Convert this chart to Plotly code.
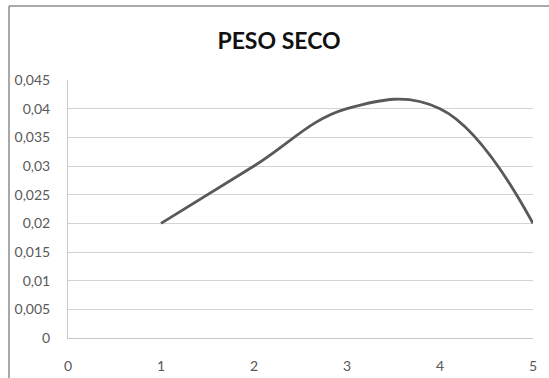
import plotly.graph_objects as go

x_values = [1, 2, 3, 4, 5]
peso_seco = [0.02, 0.03, 0.04, 0.04, 0.02]
y_tickvals = [0, 0.005, 0.01, 0.015, 0.02, 0.025, 0.03, 0.035, 0.04, 0.045]
y_ticktext = ["0", "0,005", "0,01", "0,015", "0,02", "0,025", "0,03", "0,035", "0,04", "0,045"]
x_tickvals = [0, 1, 2, 3, 4, 5]
title_text = "PESO SECO"

W, H = 549, 378
L, R, T, B = 68, 16, 80, 40
pw = W - L - R
ph = H - T - B

fig = go.Figure()
fig.add_trace(go.Scatter(
    x=x_values, y=peso_seco, mode="lines",
    line=dict(color="#595959", width=2.8, shape="spline", smoothing=1.15),
    hoverinfo="skip", showlegend=False, cliponaxis=False,
))

font_family = "Lato, 'Open Sans', sans-serif"
fig.update_layout(
    width=W, height=H,
    margin=dict(l=L, r=R, t=T, b=B, autoexpand=False),
    paper_bgcolor="white", plot_bgcolor="white",
    separators=",.",
    title=dict(text="<b>%s</b>" % title_text, x=279 / W, xref="container", xanchor="center",
               y=1 - 41 / H, yref="container", yanchor="middle",
               font=dict(family=font_family, size=23, color="#111111")),
    xaxis=dict(range=[0, 5], tickvals=x_tickvals, showgrid=False, zeroline=False,
               showline=True, linecolor="#c8c8c8", linewidth=1, ticks="", automargin=False,
               tickfont=dict(family=font_family, size=14, color="#595959"),
               ticklabelstandoff=15),
    yaxis=dict(range=[0, 0.045], tickvals=y_tickvals, ticktext=y_ticktext,
               showgrid=True, gridcolor="#d4d4d4", gridwidth=1, zeroline=False,
               showline=True, linecolor="#c8c8c8", linewidth=1, ticks="", automargin=False,
               tickfont=dict(family=font_family, size=14, color="#595959"),
               ticklabelstandoff=14),
)

# outer chart border (left and top edges)
bx = (9 - L) / pw
by = (H - B - 6) / ph
fig.add_shape(type="line", xref="paper", yref="paper", x0=bx, x1=bx, y0=by, y1=-B / ph - 0.05,
              line=dict(color="#8c8c8c", width=1.5))
fig.add_shape(type="line", xref="paper", yref="paper", x0=bx, x1=(W - L) / pw + 0.05, y0=by, y1=by,
              line=dict(color="#8c8c8c", width=1.5))

fig.write_html("out.html", config={"displayModeBar": False},
               post_script="document.body.style.margin='0';")
